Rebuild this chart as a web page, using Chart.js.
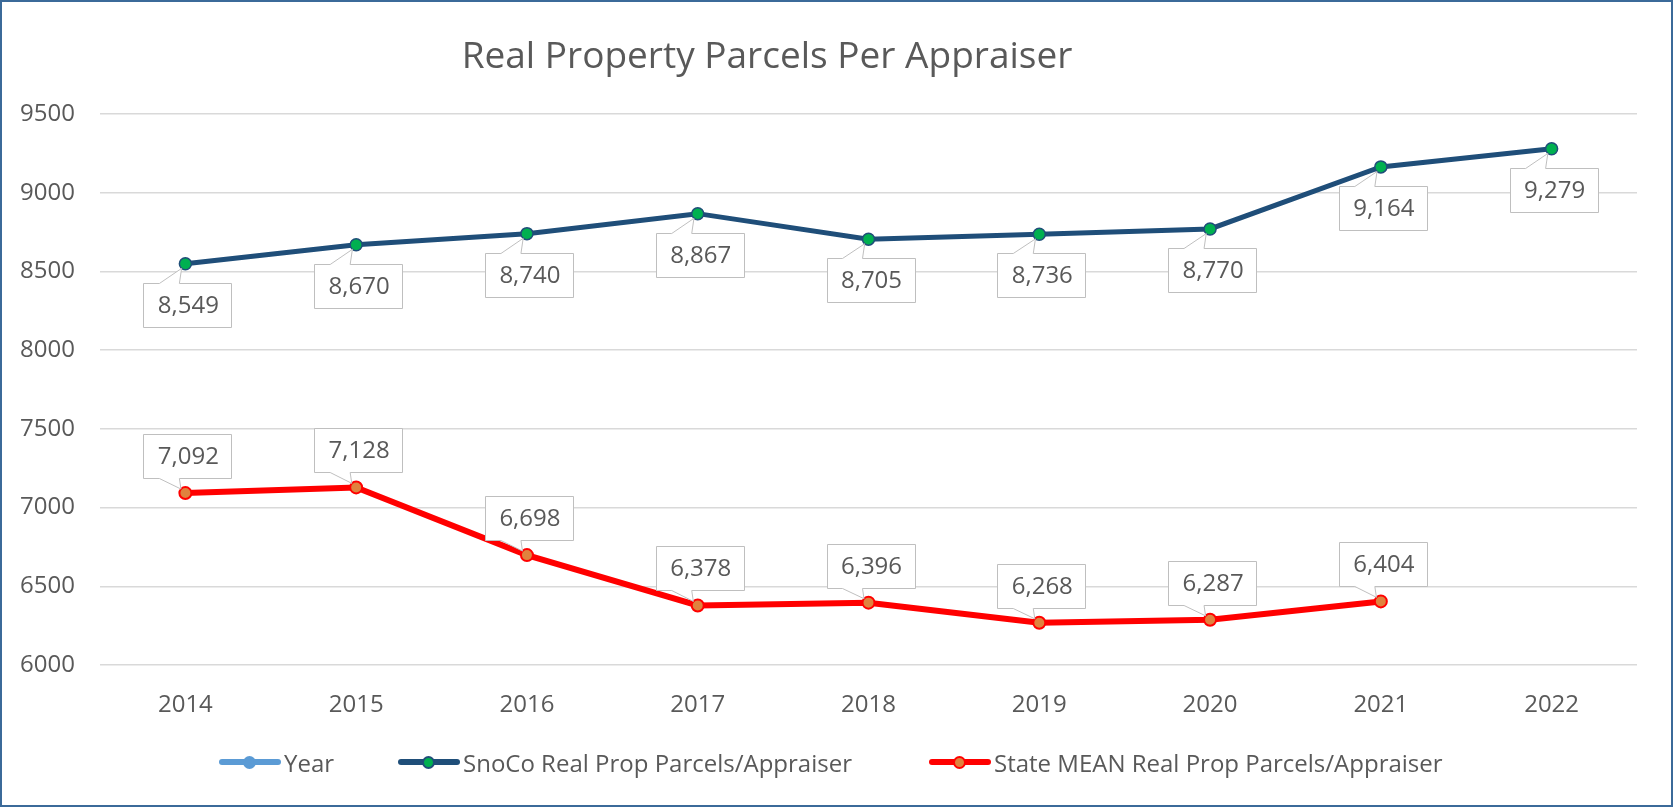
<!DOCTYPE html>
<html>
<head>
<meta charset="utf-8">
<script src="https://cdn.jsdelivr.net/npm/chart.js@4"></script>
<style>
  body { margin: 0; background: #fff; }
  #wrap { position: relative; width: 1673px; height: 807px; overflow: hidden; font-family: 'Open Sans', sans-serif; }
  #myChart { position: absolute; left: 0; top: 0; }
  #frame { position: absolute; left: 0; top: 0; width: 1673px; height: 807px; box-sizing: border-box; border: 2px solid #3b6a99; pointer-events: none; }
  #title { position: absolute; left: 0; top: 35px; width: 1534px; text-align: center; font-size: 37px; line-height: 37px; color: #595959; }
  #legend { position: absolute; left: 0; top: 747px; width: 1673px; height: 30px; }
  .item { position: absolute; top: 0; height: 30px; display: flex; align-items: center; color: #595959; font-size: 24px; white-space: nowrap; }
  .sym { position: relative; width: 62px; height: 30px; margin-right: 3px; }
  .sym .ln { position: absolute; left: 0; right: 0; top: 12px; height: 6px; border-radius: 3px; }
  .sym .dot { position: absolute; left: 24px; top: 9px; width: 9px; height: 9px; border-radius: 50%; border: 2px solid; }
</style>
</head>
<body>
<div id="wrap">
  <canvas id="myChart" width="1673" height="807"></canvas>
  <div id="title">Real Property Parcels Per Appraiser</div>
  <div id="legend"></div>
  <div id="frame"></div>
</div>
<script>
const years = ['2014', '2015', '2016', '2017', '2018', '2019', '2020', '2021', '2022']
const snocoValues = [8549, 8670, 8740, 8867, 8705, 8736, 8770, 9164, 9279]
const stateValues = [7092, 7128, 6698, 6378, 6396, 6268, 6287, 6404, null]
const yearValues = [] // listed in the legend, nothing plotted on this axis range

const yMin = 6000
const yMax = 9500
const yStep = 500

// left edge of each legend entry
const legendX = [219, 398, 929]

const textColor = '#595959'
const labelFont = "24px 'Open Sans'"

// Excel style callout boxes with a small pointer to the data point
const calloutPlugin = {
  id: 'callouts',
  afterDatasetsDraw(chart) {
    const ctx = chart.ctx
    chart.data.datasets.forEach((ds, i) => {
      if (!ds.callout) return
      const meta = chart.getDatasetMeta(i)
      meta.data.forEach((pt, j) => {
        const v = ds.data[j]
        if (v === null || v === undefined) return
        const px = pt.x
        const py = pt.y
        const w = 88
        const h = 44
        const left = Math.round(px + 2 - w / 2) + 0.5
        const right = left + w
        let top, bottom, edge
        if (ds.callout === 'below') {
          top = Math.round(py + 19) + 0.5
          bottom = top + h
          edge = top
        } else {
          bottom = Math.round(py - 15) + 0.5
          top = bottom - h
          edge = bottom
        }
        const bx1 = px - 26
        const bx2 = px - 6
        // pull the tip back to the marker edge
        const mx = (bx1 + bx2) / 2
        const dx = mx - px
        const dy = edge - py
        const d = Math.sqrt(dx * dx + dy * dy)
        const tx = px + dx / d * 6
        const ty = py + dy / d * 6

        ctx.save()
        ctx.beginPath()
        if (ds.callout === 'below') {
          ctx.moveTo(left, top)
          ctx.lineTo(bx1, top)
          ctx.lineTo(tx, ty)
          ctx.lineTo(bx2, top)
          ctx.lineTo(right, top)
          ctx.lineTo(right, bottom)
          ctx.lineTo(left, bottom)
        } else {
          ctx.moveTo(left, top)
          ctx.lineTo(right, top)
          ctx.lineTo(right, bottom)
          ctx.lineTo(bx2, bottom)
          ctx.lineTo(tx, ty)
          ctx.lineTo(bx1, bottom)
          ctx.lineTo(left, bottom)
        }
        ctx.closePath()
        ctx.fillStyle = '#ffffff'
        ctx.fill()
        ctx.strokeStyle = '#bfbfbf'
        ctx.lineWidth = 1
        ctx.stroke()

        ctx.fillStyle = textColor
        ctx.font = labelFont
        ctx.textAlign = 'center'
        ctx.textBaseline = 'middle'
        ctx.fillText(v.toLocaleString('en-US'), px + 3, (top + bottom) / 2 + 1)
        ctx.restore()
      })
    })
  }
}

const ctx = document.getElementById('myChart').getContext('2d')
const myChart = new Chart(ctx, {
  type: 'line',
  data: {
    labels: years,
    datasets: [
      {
        label: 'Year',
        data: yearValues,
        borderColor: '#5b9bd5',
        backgroundColor: '#5b9bd5',
        pointBackgroundColor: '#5b9bd5',
        pointBorderColor: '#5b9bd5',
        borderWidth: 5
      },
      {
        label: 'SnoCo Real Prop Parcels/Appraiser',
        data: snocoValues,
        borderColor: '#1f4e79',
        backgroundColor: '#1f4e79',
        borderWidth: 5,
        pointRadius: 6,
        pointBackgroundColor: '#00b050',
        pointBorderColor: '#1f4e79',
        pointBorderWidth: 1.5,
        tension: 0,
        callout: 'below'
      },
      {
        label: 'State MEAN Real Prop Parcels/Appraiser',
        data: stateValues,
        borderColor: '#ff0000',
        backgroundColor: '#ff0000',
        borderWidth: 6,
        pointRadius: 6,
        pointBackgroundColor: '#e0823e',
        pointBorderColor: '#ff0000',
        pointBorderWidth: 2,
        tension: 0,
        callout: 'above'
      }
    ]
  },
  options: {
    responsive: false,
    animation: false,
    layout: {
      padding: { top: 114, right: 36, bottom: 0, left: 0 }
    },
    plugins: {
      legend: { display: false },
      title: { display: false },
      tooltip: { enabled: false }
    },
    scales: {
      x: {
        offset: true,
        grid: { display: false },
        border: { display: false },
        ticks: {
          color: textColor,
          font: { family: 'Open Sans', size: 24 },
          padding: 18
        },
        afterFit(scale) { scale.height = 142 }
      },
      y: {
        min: yMin,
        max: yMax,
        grid: { color: '#d9d9d9', lineWidth: 1.5, drawTicks: false },
        border: { display: false },
        ticks: {
          stepSize: yStep,
          color: textColor,
          font: { family: 'Open Sans', size: 24 },
          padding: 25,
          callback: (v) => String(v)
        },
        afterFit(scale) { scale.width = 100 }
      }
    }
  },
  plugins: [calloutPlugin]
})

// html legend built from the chart datasets
const legendEl = document.getElementById('legend')
myChart.data.datasets.forEach((ds, i) => {
  const item = document.createElement('div')
  item.className = 'item'
  item.style.left = legendX[i] + 'px'
  const sym = document.createElement('span')
  sym.className = 'sym'
  const ln = document.createElement('span')
  ln.className = 'ln'
  ln.style.background = ds.borderColor
  const dot = document.createElement('span')
  dot.className = 'dot'
  dot.style.background = ds.pointBackgroundColor
  dot.style.borderColor = ds.pointBorderColor
  sym.appendChild(ln)
  sym.appendChild(dot)
  const txt = document.createElement('span')
  txt.textContent = ds.label
  item.appendChild(sym)
  item.appendChild(txt)
  legendEl.appendChild(item)
})
</script>
</body>
</html>
